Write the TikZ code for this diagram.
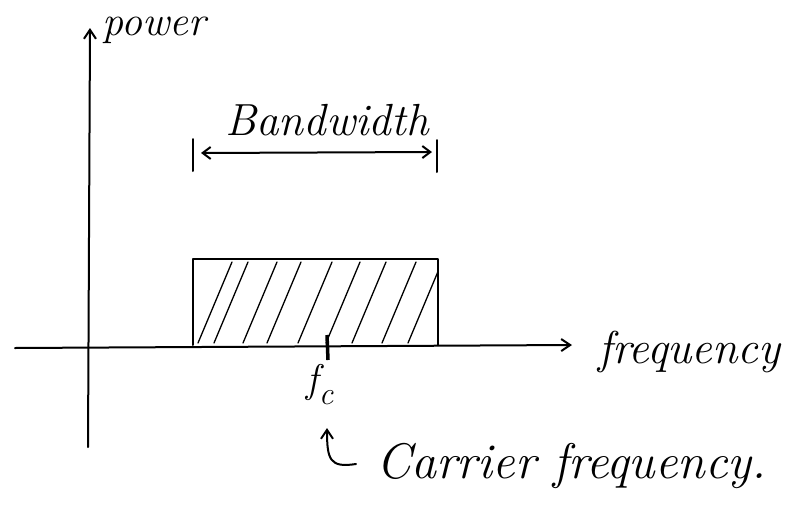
\documentclass[tikz,border=0pt]{standalone}
\usetikzlibrary{arrows.meta}
\begin{document}
\begin{tikzpicture}[x=1pt,y=-1pt,
  pen/.style={line width=2pt,line cap=round,line join=round},
  hatch/.style={line width=1.3pt,line cap=round},
  hand/.style={font=\fontsize{40}{46}\selectfont\itshape,inner sep=0pt},
  openarrow/.style={-{Straight Barb[length=9pt,width=12pt,line width=2pt]}}]
\useasboundingbox (0,0) rectangle (788,512);
% axes
\coordinate (yb) at (88,447);
\coordinate (yt) at (90,28);
\coordinate (xl) at (15,348);
\coordinate (xr) at (572,345);
\draw[pen,openarrow] (yb) -- (yt);
\draw[pen,openarrow] (xl) -- (xr);
\node[hand,anchor=west,font=\fontsize{42}{46}\selectfont\itshape] (pw) at (102,30) {power};
\node[hand,anchor=west,font=\fontsize{46}{50}\selectfont\itshape] (fq) at (598,352) {frequency};
% band rectangle
\coordinate (r1) at (193,345);
\coordinate (r2) at (438,259);
\draw[pen] (r1) -- (193,259) -- (r2) -- (438,345);
\begin{scope}
\clip (193,259) rectangle (438,345);
\foreach \b in {198,214,243,267,298,326,352,382,408}
  \draw[hatch] (\b,343) -- (\b+34,262);
\end{scope}
% bandwidth marker
\coordinate (tl1) at (193,139);
\coordinate (tl2) at (193,171);
\coordinate (tr1) at (437,140);
\coordinate (tr2) at (437,172);
\draw[pen] (tl1) -- (tl2);
\draw[pen] (tr1) -- (tr2);
\coordinate (al) at (201,153);
\coordinate (ar) at (432,152);
\draw[pen,{Straight Barb[length=8pt,width=12pt,line width=2pt]}-{Straight Barb[length=8pt,width=12pt,line width=2pt]}] (al) -- (ar);
\node[hand,font=\fontsize{45}{50}\selectfont\itshape] (bw) at (327,120) {Bandwidth};
% carrier tick
\coordinate (c1) at (327,335);
\coordinate (c2) at (328,360);
\draw[line width=3.5pt] (c1) -- (c2);
\node[hand] (fc) at (320,385) {f\raisebox{-0.3em}{\fontsize{32}{36}\selectfont c}};
% hook arrow
\coordinate (h0) at (356,464);
\coordinate (ht) at (327,428);
\draw[pen,openarrow] (h0) .. controls (330,468) and (327,460) .. (ht);
\node[hand,anchor=west,font=\fontsize{50}{56}\selectfont\itshape] (cf) at (376,466) {Carrier frequency.};
\end{tikzpicture}
\end{document}
